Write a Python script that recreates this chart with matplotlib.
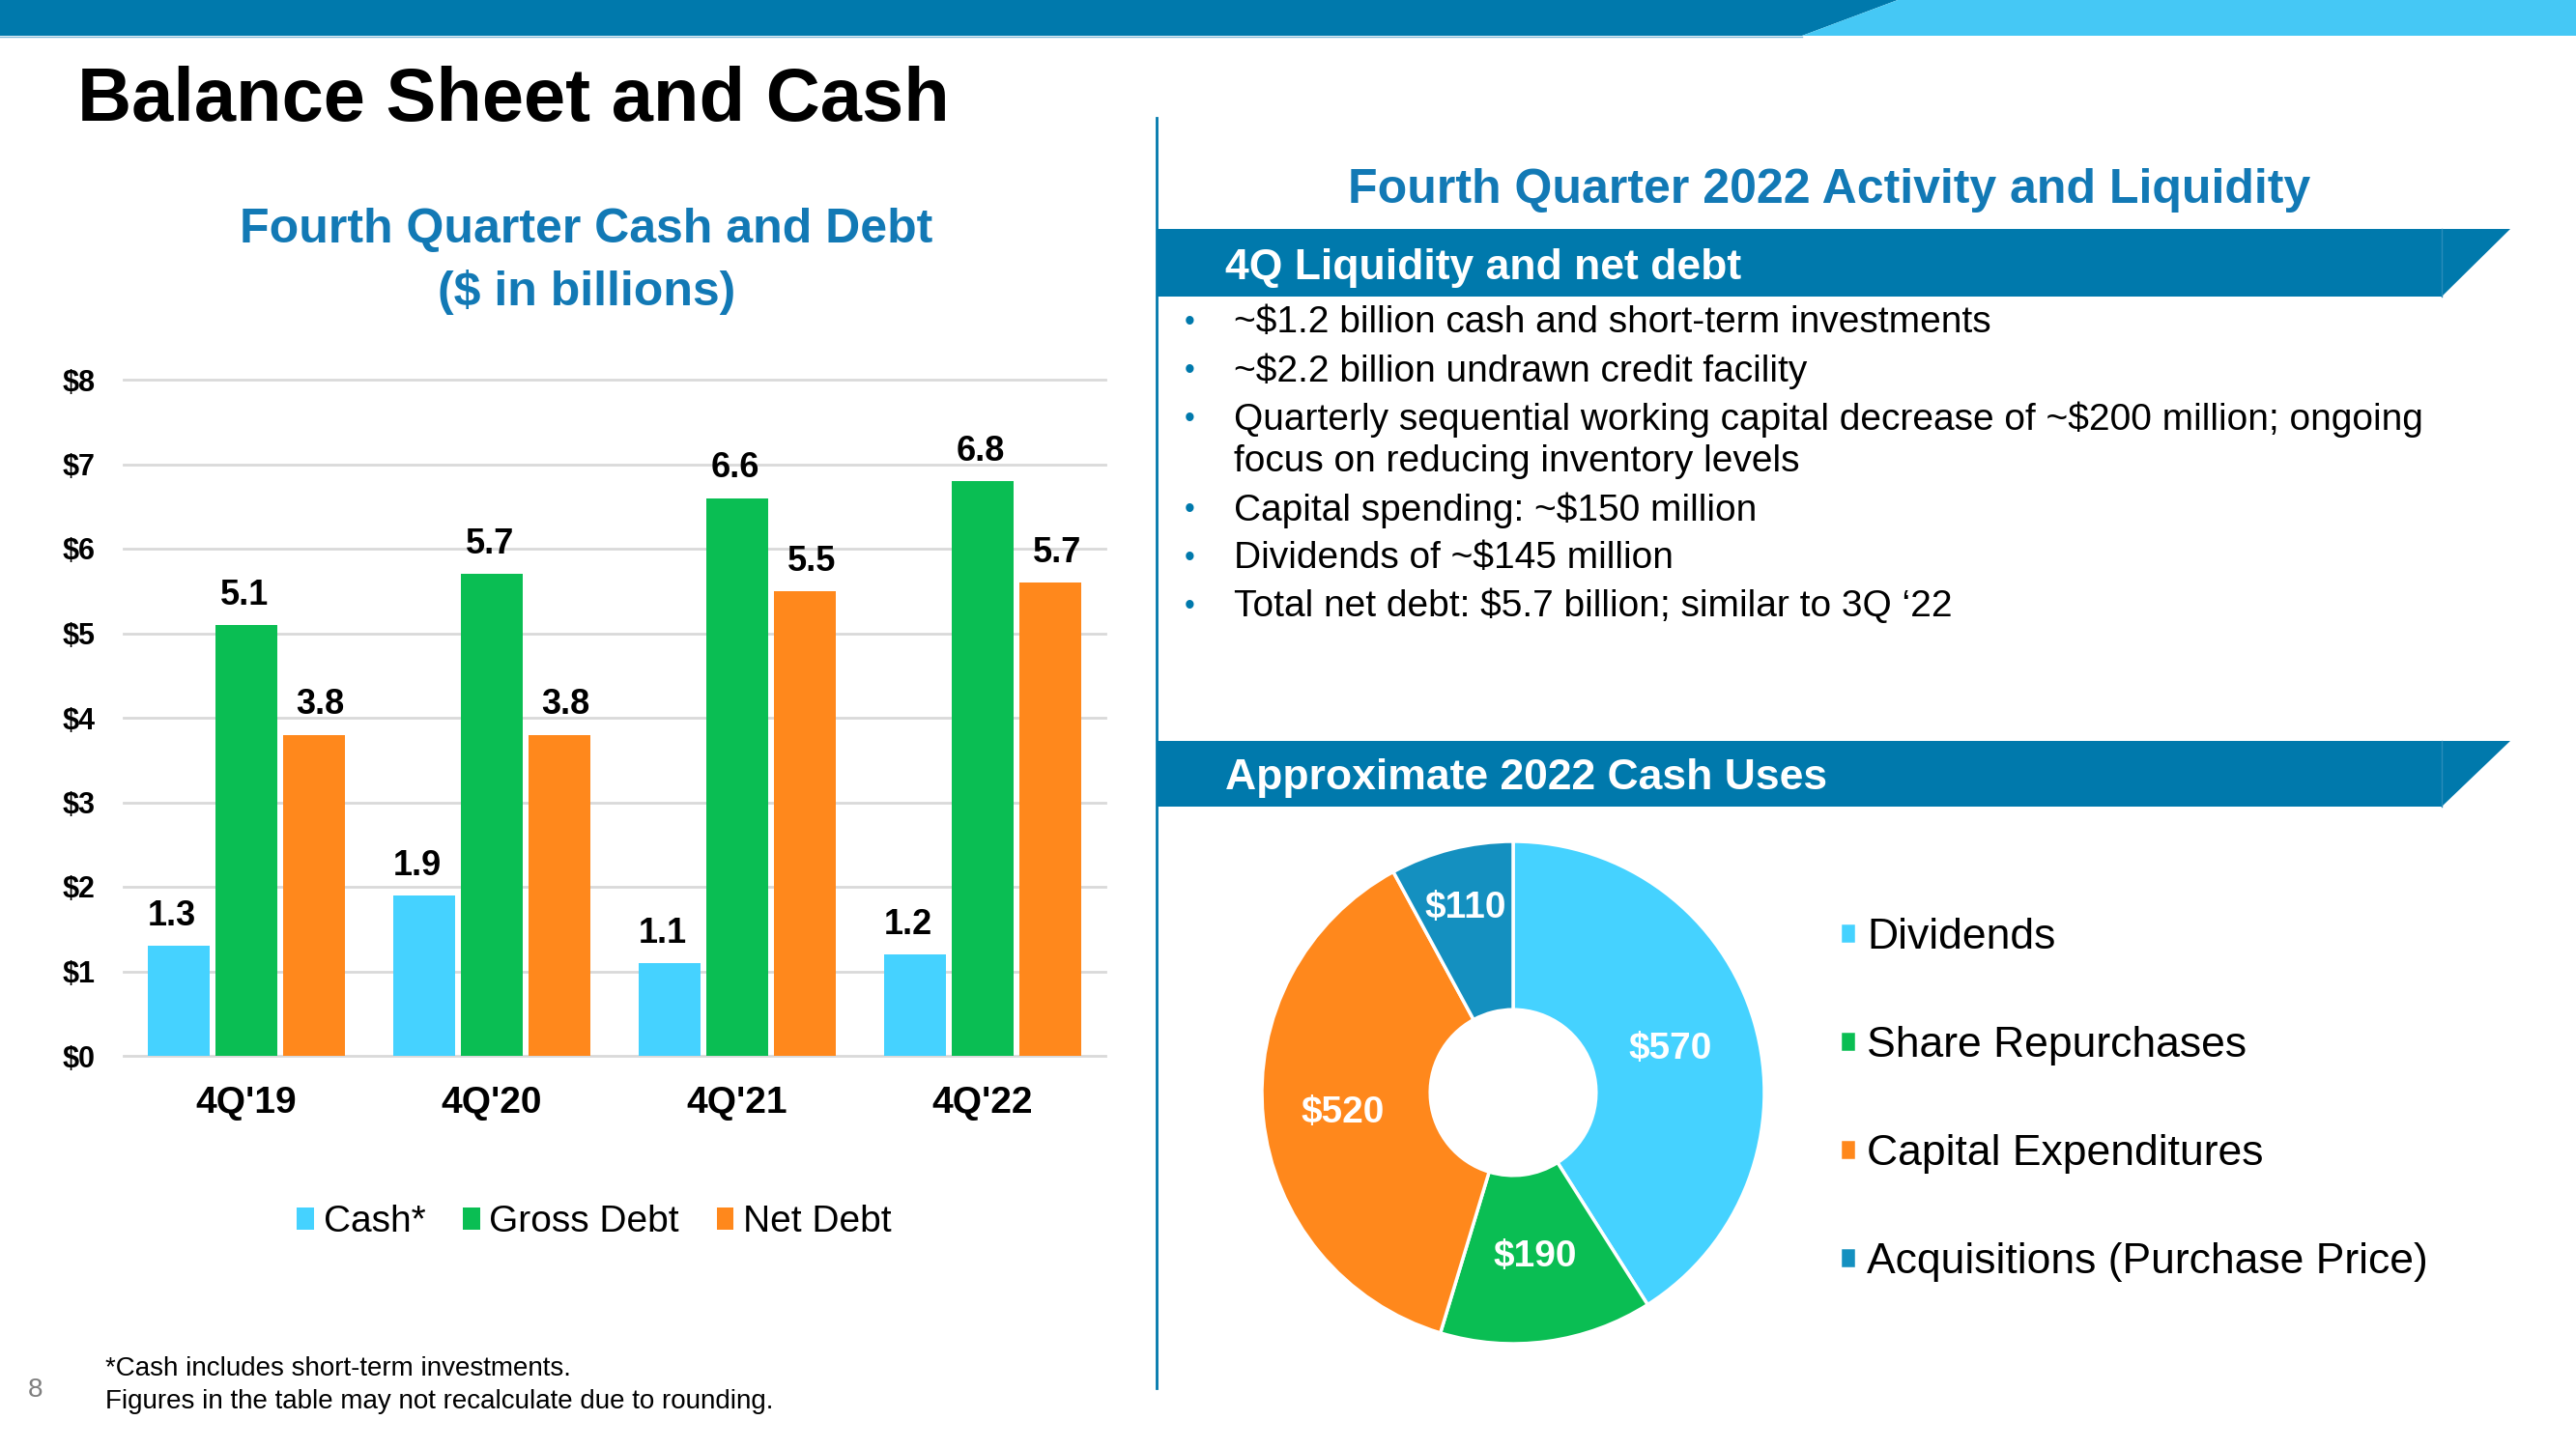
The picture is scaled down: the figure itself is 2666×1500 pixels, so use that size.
import matplotlib
matplotlib.use('Agg')
import matplotlib.pyplot as plt
from matplotlib.patches import Polygon
import numpy as np

plt.rcParams['font.family'] = ['Liberation Sans', 'DejaVu Sans']

# ---- data ----
quarters = ["4Q'19", "4Q'20", "4Q'21", "4Q'22"]
cash = [1.3, 1.9, 1.1, 1.2]
gross_debt = [5.1, 5.7, 6.6, 6.8]
net_debt = [3.8, 3.8, 5.5, 5.6]
net_debt_labels = ["3.8", "3.8", "5.5", "5.7"]
series_names = ["Cash*", "Gross Debt", "Net Debt"]
y_ticks = [0, 1, 2, 3, 4, 5, 6, 7, 8]

uses = ["Dividends", "Share Repurchases", "Capital Expenditures",
        "Acquisitions (Purchase Price)"]
use_values = [570, 190, 520, 110]

bullets = [
    "~$1.2 billion cash and short-term investments",
    "~$2.2 billion undrawn credit facility",
    "Quarterly sequential working capital decrease of ~$200 million; ongoing\nfocus on reducing inventory levels",
    "Capital spending: ~$150 million",
    "Dividends of ~$145 million",
    "Total net debt: $5.7 billion; similar to 3Q \u201822",
]

# ---- colours ----
DARK_BLUE = '#0079AC'
TITLE_BLUE = '#1279B5'
LIGHT_BLUE = '#45D2FF'
GREEN = '#0ABE53'
ORANGE = '#FF881C'
TEAL = '#1490C0'
bar_colors = [LIGHT_BLUE, GREEN, ORANGE]
pie_colors = [LIGHT_BLUE, GREEN, ORANGE, TEAL]

W, H = 2666, 1500
fig = plt.figure(figsize=(W / 100, H / 100), dpi=100, facecolor='white')


def px_rect(x0, y0, x1, y1):
    """pixel box (top-left origin) -> figure fraction rect"""
    return [x0 / W, 1 - y1 / H, (x1 - x0) / W, (y1 - y0) / H]


# overlay for slide decoration
ov = fig.add_axes([0, 0, 1, 1], zorder=0)
ov.set_xlim(0, W)
ov.set_ylim(H, 0)
ov.axis('off')
ov.patch.set_visible(False)

ov.add_patch(Polygon([(0, 0), (1964, 0), (1865, 37), (0, 37)], closed=True,
                     facecolor=DARK_BLUE, edgecolor='none'))
ov.add_patch(Polygon([(1964, 0), (W, 0), (W, 37), (1865, 37)], closed=True,
                     facecolor='#45C8F5', edgecolor='none'))
ov.plot([0, 1865], [38, 38], color='#7FB8D8', lw=1)

ov.text(80, 105, "Balance Sheet and Cash", fontsize=56, fontweight='bold',
        ha='left', va='center', color='black')

# divider
ov.plot([1197, 1197], [122, 1437], color=DARK_BLUE, lw=2)

# left chart title
ov.text(607, 238, "Fourth Quarter Cash and Debt", fontsize=36, fontweight='bold',
        color=TITLE_BLUE, ha='center', va='center')
ov.text(607, 303, "($ in billions)", fontsize=36, fontweight='bold',
        color=TITLE_BLUE, ha='center', va='center')

# right title
ov.text(1893, 197, "Fourth Quarter 2022 Activity and Liquidity", fontsize=36,
        fontweight='bold', color=TITLE_BLUE, ha='center', va='center')

# section banners
for (y0, y1, label) in [(237, 307, "4Q Liquidity and net debt"),
                        (767, 835, "Approximate 2022 Cash Uses")]:
    ov.add_patch(Polygon([(1197, y0), (2598, y0), (2527, y1), (1197, y1)],
                         closed=True, facecolor=DARK_BLUE, edgecolor='none'))
    ov.plot([2527, 2527], [y0, y1], color='#2A8DBA', lw=1)
    ov.text(1268, (y0 + y1) / 2 + 5, label, fontsize=32, fontweight='bold',
            color='white', ha='left', va='center')

# bullets
y = 334
for b in bullets:
    lines = b.split('\n')
    ov.text(1226, y, "\u2022", fontsize=22, color=DARK_BLUE, ha='left', va='center')
    for ln in lines:
        ov.text(1277, y, ln, fontsize=28, color='black', ha='left', va='center')
        y += 44
    y += 6

# footnotes
ov.text(109, 1417, "*Cash includes short-term investments.", fontsize=20,
        ha='left', va='center')
ov.text(109, 1451, "Figures in the table may not recalculate due to rounding.",
        fontsize=20, ha='left', va='center')
ov.text(37, 1439, "8", fontsize=20, color='#7F7F7F', ha='center', va='center')

# ---- bar chart ----
ax = fig.add_axes(px_rect(128, 393, 1144, 1093), zorder=2)
x = np.arange(len(quarters))
width = 0.25
step = 0.275
all_series = [cash, gross_debt, net_debt]
all_labels = [[f"{v:.1f}" for v in cash], [f"{v:.1f}" for v in gross_debt],
              net_debt_labels]
label_dx = [-5, -1.5, 5]
for i, (vals, labs) in enumerate(zip(all_series, all_labels)):
    bars = ax.bar(x + (i - 1) * step, vals, width, color=bar_colors[i],
                  label=series_names[i], zorder=3)
    for rect, lab in zip(bars, labs):
        ax.annotate(lab, (rect.get_x() + rect.get_width() / 2, rect.get_height()),
                    xytext=(label_dx[i], 22), textcoords='offset points',
                    ha='center', va='center', fontsize=26, fontweight='bold')

ax.set_xlim(-0.5, len(quarters) - 0.5)
ax.set_ylim(0, 8)
ax.set_yticks(y_ticks)
ax.set_yticklabels([f"${t}" for t in y_ticks], fontsize=22, fontweight='bold')
ax.set_xticks(x)
ax.set_xticklabels(quarters, fontsize=28, fontweight='bold')
ax.tick_params(axis='y', length=0, pad=21)
ax.tick_params(axis='x', length=0, pad=22)
ax.grid(axis='y', color='#D9D9D9', lw=2, zorder=0)
for s in ax.spines.values():
    s.set_visible(False)
for gl in ax.get_ygridlines():
    gl.set_clip_on(False)

ax.legend(loc='center', bbox_to_anchor=(615 / W, 1 - 1265 / H),
          bbox_transform=fig.transFigure, ncol=3, frameon=False, fontsize=28,
          handlelength=0.45, handleheight=0.55, handletextpad=0.25,
          columnspacing=1.0)

# ---- donut ----
R = 260
cx, cy = 1566, 1131
pax = fig.add_axes(px_rect(cx - R, cy - R, cx + R, cy + R), zorder=2)
wedges, _ = pax.pie(use_values, colors=pie_colors, startangle=90,
                    counterclock=False, radius=1,
                    wedgeprops=dict(width=0.67, edgecolor='white', linewidth=2.5))
pax.set_xlim(-1, 1)
pax.set_ylim(-1, 1)
pax.set_aspect('equal')
pax.axis('off')

label_r = [0.65, 0.65, 0.68, 0.77]
for w, v, r in zip(wedges, use_values, label_r):
    ang = np.deg2rad((w.theta1 + w.theta2) / 2)
    pax.text(r * np.cos(ang), r * np.sin(ang) - 0.01, f"${v}", color='white',
             fontsize=28, fontweight='bold', ha='center', va='center')

fig.legend(wedges, uses, loc='upper left',
           bbox_to_anchor=(1864 / W, 1 - 910 / H), frameon=False, fontsize=32,
           handlelength=0.38, handleheight=0.38, handletextpad=0.25,
           labelspacing=1.6)

fig.savefig('out.png', dpi=100, facecolor='white')
